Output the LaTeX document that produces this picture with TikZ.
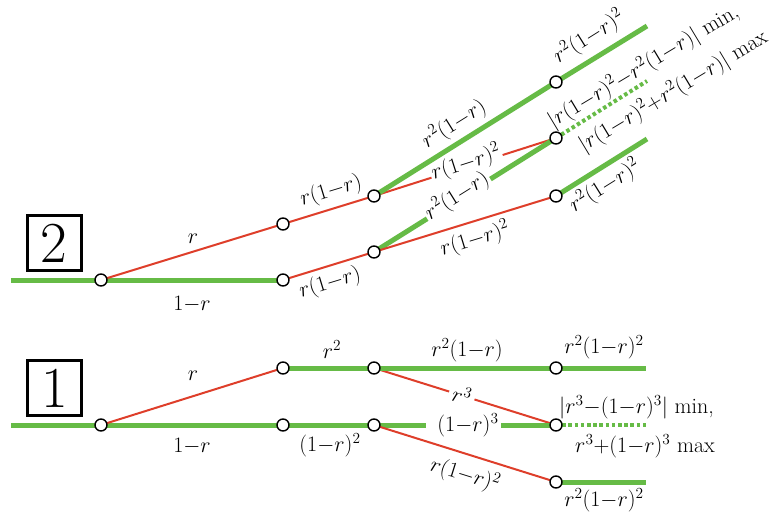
\RequirePackage{fix-cm}
\documentclass[tikz,border=0pt]{standalone}
\definecolor{grn}{RGB}{102,187,70}
\definecolor{rd}{RGB}{222,62,42}
\begin{document}
\begin{tikzpicture}[x=1pt,y=-1pt,
  gl/.style={draw=grn,line width=5pt},
  rl/.style={draw=rd,line width=2pt},
  dl/.style={draw=grn,line width=4pt,dash pattern=on 3.5pt off 2.7pt},
  dot/.style={circle,draw=black,fill=white,line width=1.4pt,minimum size=12pt,inner sep=0pt},
  lb/.style={font=\fontsize{22}{26}\selectfont,inner sep=1.5pt},
  gap/.style={lb,fill=white},
  numbox/.style={draw,line width=3pt,minimum width=54pt,minimum height=55pt,inner sep=0pt,font=\fontsize{58}{60}\selectfont}]
\useasboundingbox (0,0) rectangle (770,519);

% ---------- diagram 2 ----------
\coordinate (S2) at (11,280);
\coordinate (A2) at (101,280);
\coordinate (B2) at (283,224);
\coordinate (C2) at (283,280);
\coordinate (D2) at (374,196);
\coordinate (E2) at (374,252);
\coordinate (F2) at (556,82);
\coordinate (G2) at (556,138);
\coordinate (H2) at (556,196);
\coordinate (F2e) at (647,26);
\coordinate (G2e) at (647,81);
\coordinate (H2e) at (647,139);

% lines interrupted by their labels
\draw[rl] (D2) -- (G2);
\node[gap,rotate=17.7] (l7) at (466,163) {$r(1{-}r)^2$};
\draw[gl] (E2) -- (G2);
\node[gap,rotate=32] (l8) at (457,196) {$r^2(1{-}r)$};

\draw[gl] (S2) -- (A2) -- (C2);
\draw[rl] (A2) -- (B2) -- (D2);
\draw[rl] (C2) -- (E2) -- (H2);
\draw[gl] (D2) -- (F2) -- (F2e);
\draw[gl] (H2) -- (H2e);
\draw[dl] (G2) -- (G2e);

\node[numbox] (box2) at (54,243) {2};
\node[lb] (l1) at (193,239) {$r$};
\node[lb] (l2) at (192,304) {$1{-}r$};
\node[lb,rotate=17] (l3) at (331,191) {$r(1{-}r)$};
\node[lb,rotate=17] (l4) at (330,283) {$r(1{-}r)$};
\node[lb,rotate=32] (l5) at (454,124) {$r^2(1{-}r)$};
\node[lb,rotate=32] (l6) at (589,37) {$r^2(1{-}r)^2$};
\node[lb,rotate=17] (l9) at (475,239) {$r(1{-}r)^2$};
\node[lb,rotate=32] (l10) at (605,186) {$r^2(1{-}r)^2$};
\node[lb,rotate=31,anchor=south west,inner sep=0pt] (l11) at (556,133) {$|r(1{-}r)^2{-}r^2(1{-}r)|$ min,};
\node[lb,rotate=31,anchor=south west,inner sep=0pt] (l12) at (587,157) {$|r(1{-}r)^2{+}r^2(1{-}r)|$ max};

\foreach \n in {A2,B2,C2,D2,E2,F2,G2,H2}
  \node[dot] (d\n) at (\n) {};

% ---------- diagram 1 ----------
\coordinate (S1) at (11,425);
\coordinate (A1) at (101,425);
\coordinate (B1) at (283,425);
\coordinate (C1) at (283,368);
\coordinate (D1) at (374,368);
\coordinate (F1) at (374,425);
\coordinate (E1) at (556,368);
\coordinate (G1) at (556,425);
\coordinate (H1) at (556,482);
\coordinate (E1e) at (646,368);
\coordinate (G1e) at (646,425);
\coordinate (H1e) at (646,482);

% lines interrupted by their labels
\draw[rl] (D1) -- (G1);
\node[gap,rotate=-17.4,inner xsep=4pt] (m8) at (462,395) {$r^3$};
\draw[gl] (S1) -- (A1) -- (B1) -- (F1) -- (G1);
\node[gap,inner xsep=2pt] (m7) at (468,425) {$(1{-}r)^3$};
\fill[white] (m7.north west) rectangle ([xshift=-9pt]m7.south west);

\draw[rl] (A1) -- (C1);
\draw[gl] (C1) -- (D1) -- (E1) -- (E1e);
\draw[rl] (F1) -- (H1);
\draw[gl] (H1) -- (H1e);
\draw[dl] (G1) -- (G1e);

\node[numbox] (box1) at (54.5,388) {1};
\node[lb] (m1) at (193,376) {$r$};
\node[lb] (m2) at (192,446) {$1{-}r$};
\node[lb] (m3) at (332,350) {$r^2$};
\node[lb] (m4) at (467,350) {$r^2(1{-}r)$};
\node[lb] (m5) at (604,347) {$r^2(1{-}r)^2$};
\node[lb] (m6) at (330,445) {$(1{-}r)^2$};
\node[lb,rotate=-17.4] (m9) at (465,475) {$r(1{-}r)^2$};
\node[lb] (m10) at (604,500) {$r^2(1{-}r)^2$};
\node[lb,anchor=west,inner sep=0pt] (m11) at (559,407) {$|r^3{-}(1{-}r)^3|$ min,};
\node[lb,anchor=west,inner sep=0pt] (m12) at (575,446) {$r^3{+}(1{-}r)^3$ max};

\foreach \n in {A1,B1,C1,D1,E1,F1,G1,H1}
  \node[dot] (d\n) at (\n) {};
\end{tikzpicture}
\end{document}
